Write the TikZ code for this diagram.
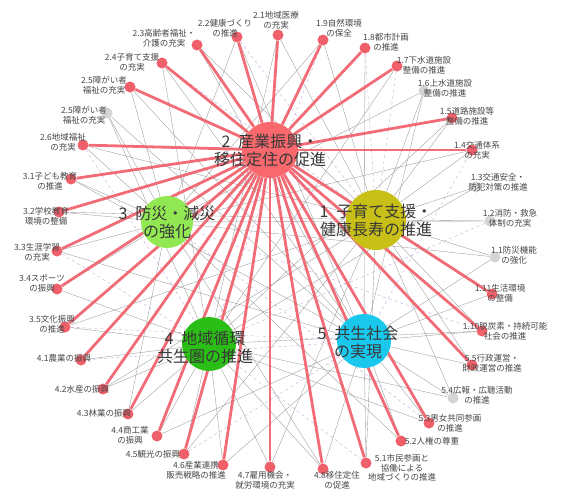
\documentclass[tikz,border=0pt]{standalone}
\usepackage{fontspec}
\setmainfont{Noto Sans CJK JP}
\usetikzlibrary{backgrounds}

\definecolor{edgered}{RGB}{240,96,106}
\definecolor{hubred}{RGB}{248,104,108}
\definecolor{hubyellow}{RGB}{200,192,22}
\definecolor{hublime}{RGB}{146,232,82}
\definecolor{hubgreen}{RGB}{42,190,22}
\definecolor{hubcyan}{RGB}{26,200,238}
\definecolor{dotgrey}{RGB}{212,212,212}
\definecolor{txtgrey}{RGB}{70,70,70}
\definecolor{lilac}{RGB}{190,160,215}

\tikzset{
  hub/.style={circle, inner sep=0pt},
  hubtext/.style={font=\fontsize{16}{18}\selectfont, text=black!78, align=center, inner sep=0pt},
  reddot/.style={circle, fill=edgered, minimum size=11pt, inner sep=0pt},
  greydot/.style={circle, fill=dotgrey, minimum size=11pt, inner sep=0pt},
  tag/.style={font=\fontsize{8.5}{9.6}\selectfont, text=txtgrey, align=center, inner sep=0pt},
  redlink/.style={draw=edgered, line width=2.8pt, opacity=0.92},
  greylink/.style={draw=black!40, line width=0.35pt},
  lilaclink/.style={draw=lilac, line width=0.35pt, dashed}
}

\begin{document}
\begin{tikzpicture}[x=1pt, y=-1pt]
  \useasboundingbox (0,0) rectangle (561,491);

  % hubs
  \node[hub, fill=hubred, minimum size=56pt] (h2) at (270,150) {};
  \node[hub, fill=hubyellow, minimum size=60pt] (h1) at (376,220) {};
  \node[hub, fill=hublime, minimum size=52pt] (h3) at (167,222) {};
  \node[hub, fill=hubgreen, minimum size=54pt] (h4) at (209,344) {};
  \node[hub, fill=hubcyan, minimum size=54pt] (h5) at (364,341) {};

  % dots joined to hub 2
  \foreach \n/\x/\y in {n14/472/150, n15/452/118, n17/397/66, n18/365/48, n19/323/40,
      n110/482/331, n111/492/294, n21/278/35, n22/237/37, n23/197/45, n24/162/63,
      n25/130/87, n26/83/145, n31/71/179, n32/59/212, n33/57/251, n34/57/289,
      n35/65/327, n41/81/360, n42/103/389, n43/128/414, n44/157/436, n45/184/454,
      n46/223/465, n47/270/467, n48/323/469, n51/366/463, n52/401/441, n53/429/423,
      n55/472/365}
    \node[reddot] (\n) at (\x,\y) {};
  % dots without a red link
  \foreach \n/\x/\y in {n11/495/257, n12/490/221, n13/476/187, n16/424/91,
      n25b/107/113, n54/453/398}
    \node[greydot] (\n) at (\x,\y) {};

  \begin{scope}[on background layer]
    \foreach \a/\b in {n11/h1, n11/h5, n11/h3, n12/h1, n12/h3, n13/h1, n13/h4,
        n14/h1, n14/h3, n15/h1, n15/h4, n16/h1, n16/h3, n16/h5, n17/h4, n18/h5,
        n19/h1, n19/h3, n110/h1, n110/h5, n110/h4, n111/h1, n111/h5, n21/h1,
        n21/h4, n22/h5, n22/h3, n23/h1, n23/h5, n24/h4, n24/h5, n25/h3, n25/h5,
        n25b/h3, n25b/h4, n25b/h5, n26/h3, n26/h1, n31/h3, n31/h5, n32/h3,
        n32/h1, n33/h3, n33/h5, n34/h3, n34/h4, n35/h4, n35/h1, n41/h4, n42/h4,
        n42/h1, n43/h4, n43/h3, n44/h4, n44/h5, n45/h4, n45/h1, n46/h4, n46/h5,
        n47/h4, n47/h1, n48/h5, n48/h3, n48/h4, n51/h5, n51/h1, n52/h5, n52/h3,
        n53/h5, n53/h4, n54/h5, n54/h1, n54/h4, n55/h5, n55/h1}
      \draw[greylink] (\a) -- (\b);
    \foreach \a/\b in {n17/h1, n18/h1, n41/h5, n12/h4, n24/h1, n33/h4, n45/h5,
        n51/h4, n14/h5, n22/h1, n26/h4, n53/h3, n110/h3, n35/h5, n19/h4}
      \draw[lilaclink] (\a) -- (\b);
    \foreach \n in {n14, n15, n17, n18, n19, n110, n111, n21, n22, n23, n24, n25,
        n26, n31, n32, n33, n34, n35, n41, n42, n43, n44, n45, n46, n47, n48,
        n51, n52, n53, n55}
      \draw[redlink] (\n) -- (h2);
  \end{scope}

  % hub labels
  \node[hubtext] (t1) at (h1) {1\enspace 子育て支援・\\健康長寿の推進};
  \node[hubtext] (t2) at (h2) {2\enspace 産業振興・\\移住定住の促進};
  \node[hubtext] (t3) at (h3) {3\enspace 防災・減災\\の強化};
  \node[hubtext] (t4) at (205,347) {4\enspace 地域循環\\共生圏の推進};
  \node[hubtext] (t5) at (358,342) {5\enspace 共生社会\\の実現};

  % small labels
  \node[tag] (l11) at (514,255) {1.1防災機能\\の強化};
  \node[tag] (l12) at (510,218) {1.2消防・救急\\体制の充実};
  \node[tag] (l13) at (498,182) {1.3交通安全・\\防犯対策の推進};
  \node[tag] (l14) at (477,150) {1.4交通体系\\の充実};
  \node[tag] (l15) at (467,116) {1.5道路施設等\\整備の推進};
  \node[tag] (l16) at (445,88) {1.6上水道施設\\整備の推進};
  \node[tag] (l17) at (424,65) {1.7下水道施設\\整備の推進};
  \node[tag] (l18) at (386,42) {1.8都市計画\\の推進};
  \node[tag] (l19) at (339,28) {1.9自然環境\\の保全};
  \node[tag] (l110) at (505,331) {1.10脱炭素・持続可能\\社会の推進};
  \node[tag] (l111) at (500,293) {1.11生活環境\\の整備};
  \node[tag] (l21) at (276,20) {2.1地域医療\\の充実};
  \node[tag] (l22) at (225,28) {2.2健康づくり\\の推進};
  \node[tag] (l23) at (164,38) {2.3高齢者福祉・\\介護の充実};
  \node[tag] (l24) at (132,62) {2.4子育て支援\\の充実};
  \node[tag] (l25) at (104,85) {2.5障がい者\\福祉の充実};
  \node[tag] (l25b) at (84,115) {2.5障がい者\\福祉の充実};
  \node[tag] (l26) at (63,142) {2.6地域福祉\\の充実};
  \node[tag] (l31) at (50,181) {3.1子ども教育\\の推進};
  \node[tag] (l32) at (46,216) {3.2学校教育\\環境の整備};
  \node[tag] (l33) at (37,252) {3.3生涯学習\\の充実};
  \node[tag] (l34) at (42,283) {3.4スポーツ\\の振興};
  \node[tag] (l35) at (52,324) {3.5文化振興\\の推進};
  \node[tag] (l41) at (64,358) {4.1農業の振興};
  \node[tag] (l42) at (82,389) {4.2水産の振興};
  \node[tag] (l43) at (104,413) {4.3林業の振興};
  \node[tag] (l44) at (130,435) {4.4商工業\\の振興};
  \node[tag] (l45) at (153,454) {4.5観光の振興};
  \node[tag] (l46) at (196,470) {4.6産業連携\\販売戦略の推進};
  \node[tag] (l47) at (265,480) {4.7雇用機会・\\就労環境の充実};
  \node[tag] (l48) at (337,480) {4.8移住定住\\の促進};
  \node[tag] (l51) at (402,468) {5.1市民参画と\\協働による\\地域づくりの推進};
  \node[tag] (l52) at (432,441) {5.2人権の尊重};
  \node[tag] (l53) at (450,423) {5.3男女共同参画\\の推進};
  \node[tag] (l54) at (477,395) {5.4広報・広聴活動\\の推進};
  \node[tag] (l55) at (492,363) {5.5行政運営・\\財政運営の推進};
\end{tikzpicture}
\end{document}
